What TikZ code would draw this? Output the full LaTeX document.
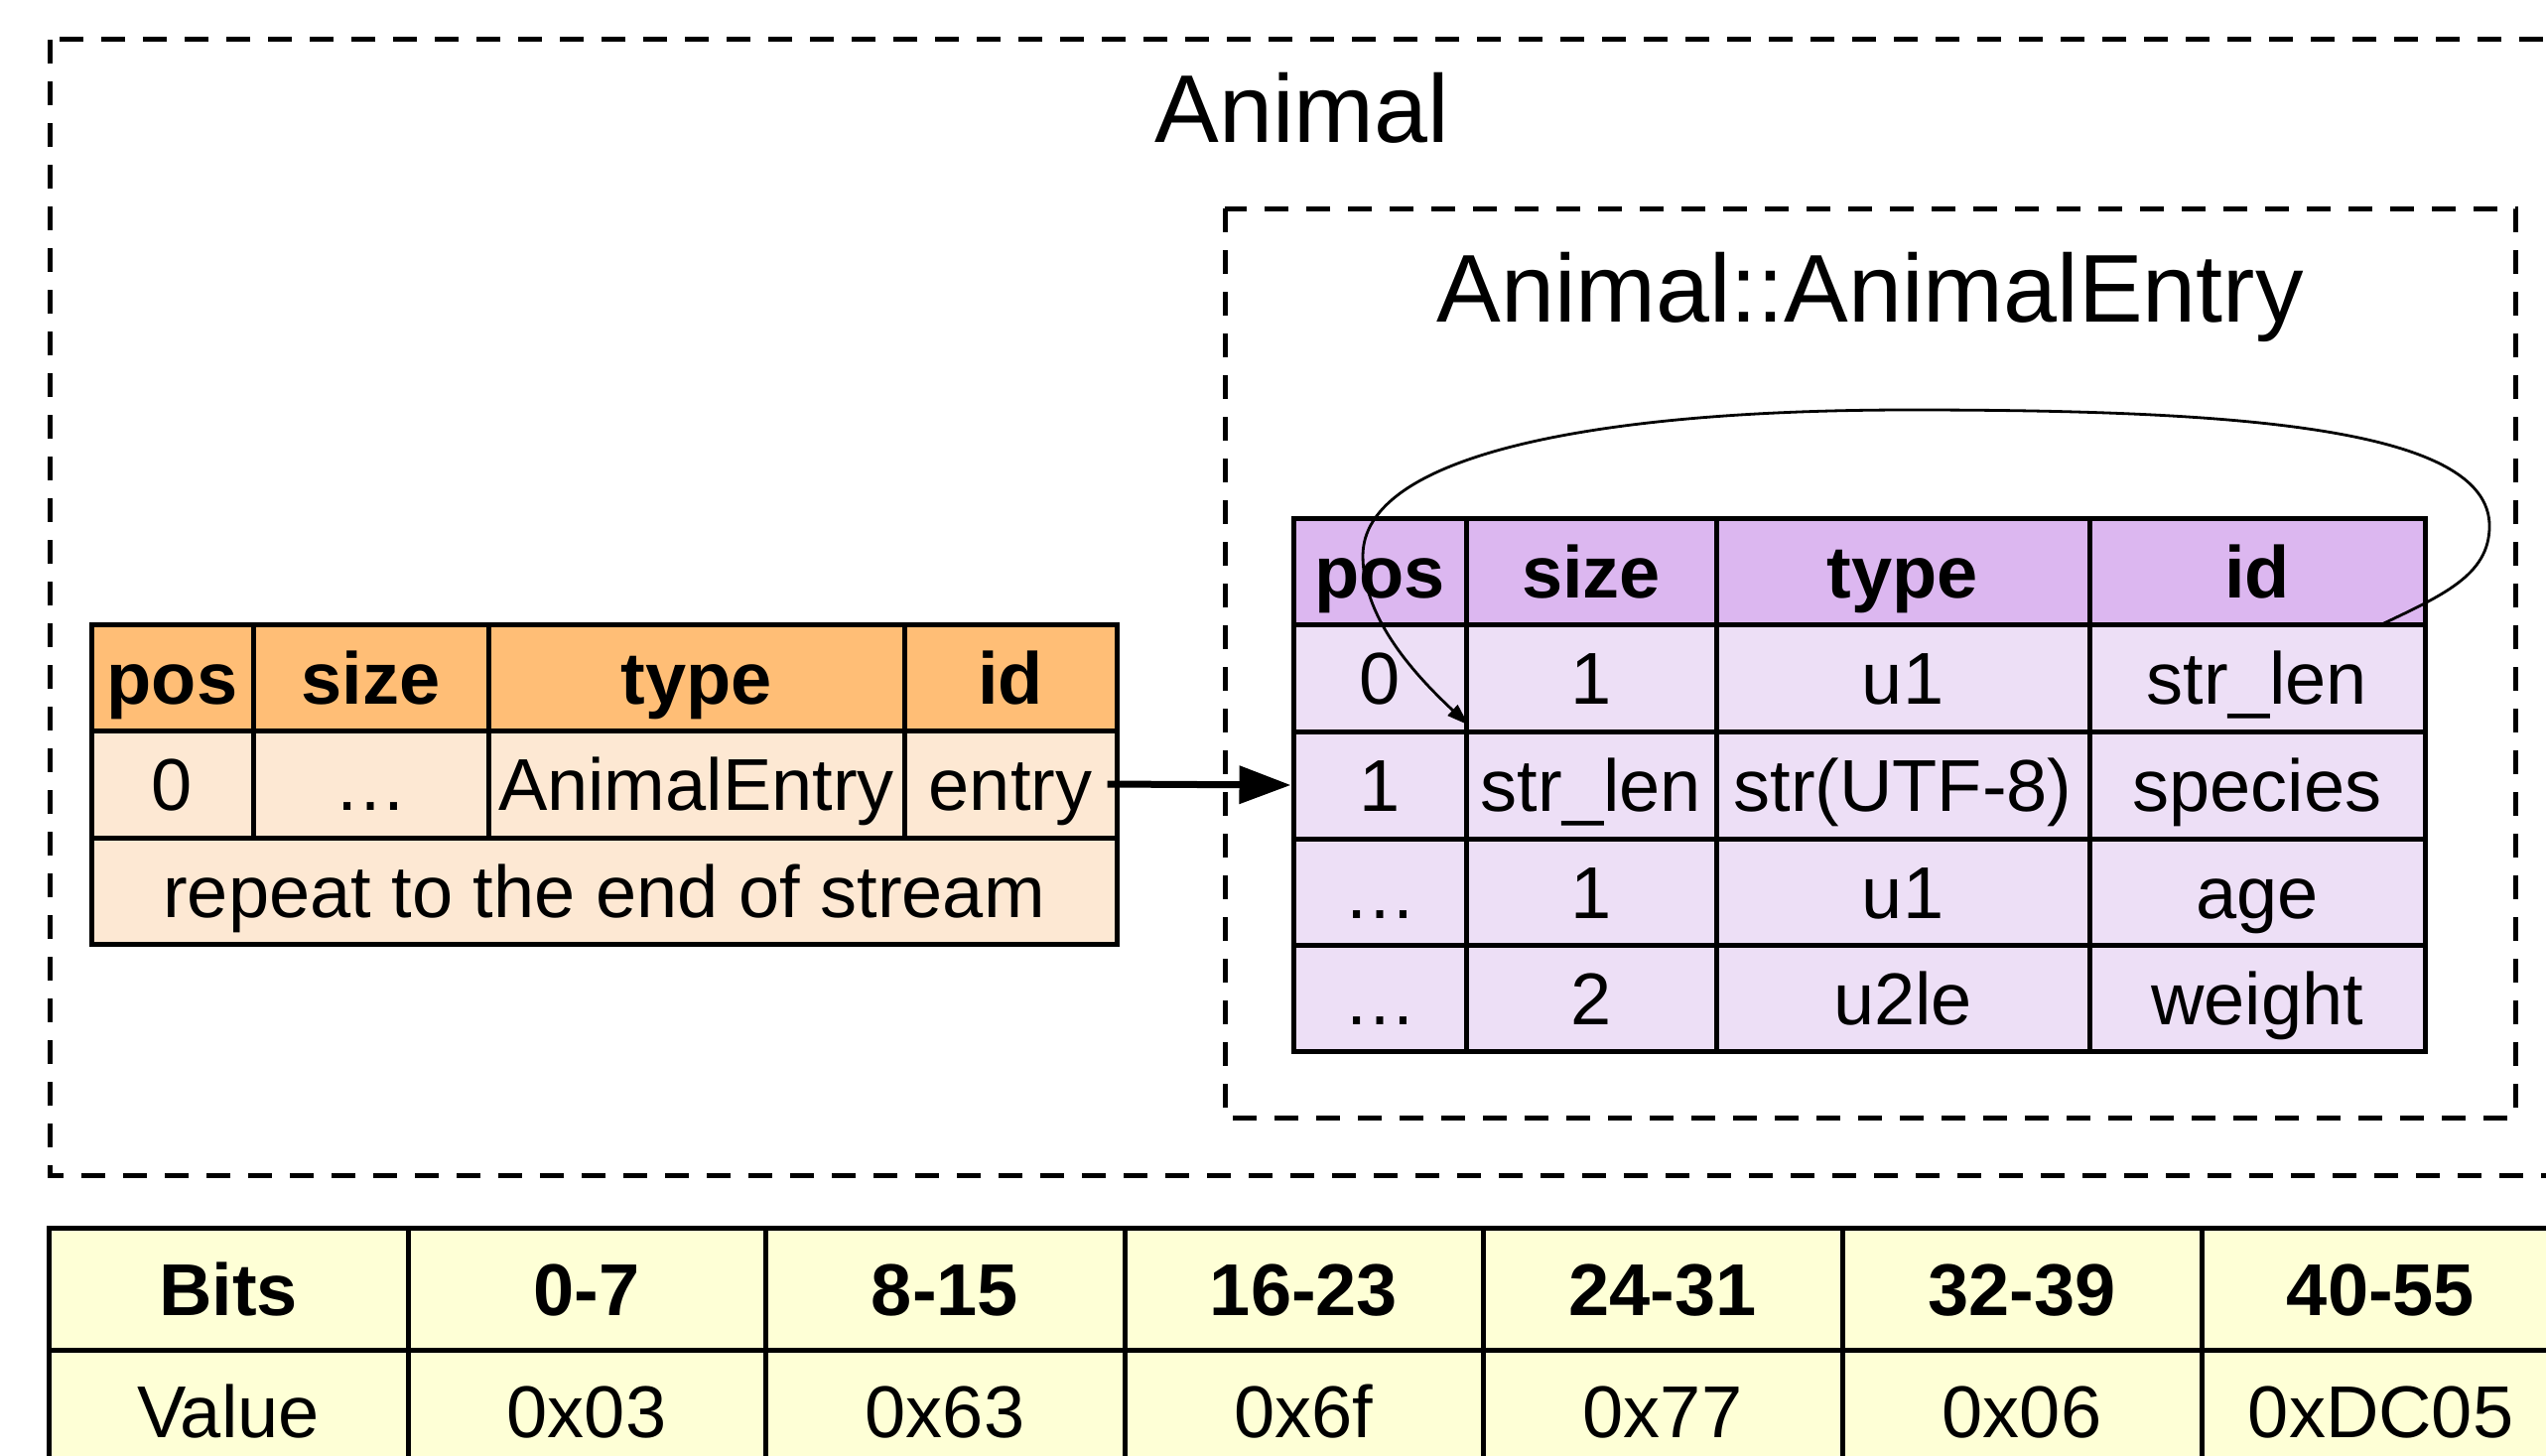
\documentclass[tikz,border=0pt]{standalone}
\usepackage{fontspec}
\setmainfont{Liberation Sans}
\usetikzlibrary{arrows.meta,calc}
\definecolor{ohead}{HTML}{FFBE76}
\definecolor{obody}{HTML}{FDE8D3}
\definecolor{phead}{HTML}{DCB7F0}
\definecolor{pbody}{HTML}{EDDFF6}
\definecolor{ybody}{HTML}{FEFFD6}
\tikzset{
  cellbox/.style={draw=black, line width=1.25pt, inner sep=0pt, anchor=center,
    font=\fontsize{18.5}{22}\selectfont, text height=13.25pt, text depth=0pt},
  hdr/.style={font=\fontsize{18.5}{22}\selectfont\bfseries},
  clusterline/.style={line width=1.25pt, dash pattern=on 6pt off 4.5pt},
  titletext/.style={anchor=base, inner sep=0pt, font=\fontsize{24.25}{29}\selectfont},
  entryarrow/.style={line width=1.75pt, -{Triangle[length=13pt,width=9.25pt]}},
  curvearrow/.style={line width=0.7pt, -{Triangle[length=5.5pt,width=3.6pt]}},
}
\newcommand\tcell[7]{\node[cellbox,#2,minimum width={(#4-#3)*0.25pt},minimum height={(#6-#5)*0.25pt}] (#1) at ({(#3+#4)/2},{(#5+#6)/2}) {#7};}
\begin{document}
\begin{tikzpicture}[x=0.25pt,y=-0.25pt]
\useasboundingbox (0,0) rectangle (2565,1466);
\clip (0,0) rectangle (2565,1466);
% clusters
\draw[clusterline] (50,40) rectangle (2577,1184);
\node[titletext] (tAnimal) at (1312,144) {Animal};
\draw[clusterline] (1234,210) rectangle (2534,1126);
\node[titletext] (tEntry) at (1884,324) {Animal::AnimalEntry};
% left table
\tcell{LHpos}{hdr,fill=ohead}{92}{255}{629}{736}{pos}
\tcell{LHsize}{hdr,fill=ohead}{255}{492}{629}{736}{size}
\tcell{LHtype}{hdr,fill=ohead}{492}{911}{629}{736}{type}
\tcell{LHid}{hdr,fill=ohead}{911}{1125}{629}{736}{id}
\tcell{L0pos}{fill=obody}{92}{255}{736}{844}{0}
\tcell{L0size}{fill=obody}{255}{492}{736}{844}{…}
\tcell{L0type}{fill=obody}{492}{911}{736}{844}{AnimalEntry}
\tcell{L0id}{fill=obody}{911}{1125}{736}{844}{entry}
\tcell{Lrep}{fill=obody}{92}{1125}{844}{951}{repeat to the end of stream}
% right table
\tcell{RHpos}{hdr,fill=phead}{1303}{1477}{522}{629}{pos}
\tcell{RHsize}{hdr,fill=phead}{1477}{1729}{522}{629}{size}
\tcell{RHtype}{hdr,fill=phead}{1729}{2105}{522}{629}{type}
\tcell{RHid}{hdr,fill=phead}{2105}{2443}{522}{629}{id}
\tcell{R0pos}{fill=pbody}{1303}{1477}{629}{737}{0}
\tcell{R0size}{fill=pbody}{1477}{1729}{629}{737}{1}
\tcell{R0type}{fill=pbody}{1729}{2105}{629}{737}{u1}
\tcell{R0id}{fill=pbody}{2105}{2443}{629}{737}{str\_len}
\tcell{R1pos}{fill=pbody}{1303}{1477}{737}{845}{1}
\tcell{R1size}{fill=pbody}{1477}{1729}{737}{845}{str\_len}
\tcell{R1type}{fill=pbody}{1729}{2105}{737}{845}{str(UTF-8)}
\tcell{R1id}{fill=pbody}{2105}{2443}{737}{845}{species}
\tcell{R2pos}{fill=pbody}{1303}{1477}{845}{952}{…}
\tcell{R2size}{fill=pbody}{1477}{1729}{845}{952}{1}
\tcell{R2type}{fill=pbody}{1729}{2105}{845}{952}{u1}
\tcell{R2id}{fill=pbody}{2105}{2443}{845}{952}{age}
\tcell{R3pos}{fill=pbody}{1303}{1477}{952}{1059}{…}
\tcell{R3size}{fill=pbody}{1477}{1729}{952}{1059}{2}
\tcell{R3type}{fill=pbody}{1729}{2105}{952}{1059}{u2le}
\tcell{R3id}{fill=pbody}{2105}{2443}{952}{1059}{weight}
% bottom table
\tcell{BHa}{hdr,fill=ybody}{49}{411}{1237}{1360}{Bits}
\tcell{BHb}{hdr,fill=ybody}{411}{771}{1237}{1360}{0-7}
\tcell{BHc}{hdr,fill=ybody}{771}{1133}{1237}{1360}{8-15}
\tcell{BHd}{hdr,fill=ybody}{1133}{1494}{1237}{1360}{16-23}
\tcell{BHe}{hdr,fill=ybody}{1494}{1856}{1237}{1360}{24-31}
\tcell{BHf}{hdr,fill=ybody}{1856}{2218}{1237}{1360}{32-39}
\tcell{BHg}{hdr,fill=ybody}{2218}{2579}{1237}{1360}{40-55}
\tcell{BVa}{fill=ybody}{49}{411}{1360}{1484}{Value}
\tcell{BVb}{fill=ybody}{411}{771}{1360}{1484}{0x03}
\tcell{BVc}{fill=ybody}{771}{1133}{1360}{1484}{0x63}
\tcell{BVd}{fill=ybody}{1133}{1494}{1360}{1484}{0x6f}
\tcell{BVe}{fill=ybody}{1494}{1856}{1360}{1484}{0x77}
\tcell{BVf}{fill=ybody}{1856}{2218}{1360}{1484}{0x06}
\tcell{BVg}{fill=ybody}{2218}{2579}{1360}{1484}{0xDC05}
% connectors
\coordinate (es) at ($(L0id.east)+(-12,0)$);
\draw[entryarrow] (es) -- (R1pos.west);
\coordinate (cs) at ($(R0id.north east)+(-49,4)$);
\coordinate (ce) at ($(R1size.north west)+(5,-4)$);
\draw[curvearrow] (cs) .. controls (2460,600) and (2508,580) .. (2508,530)
  .. controls (2508,430) and (2250,413) .. (1924,413)
  .. controls (1600,413) and (1373,460) .. (1373,560)
  .. controls (1373,620) and (1420,675) .. (ce);
\end{tikzpicture}
\end{document}
